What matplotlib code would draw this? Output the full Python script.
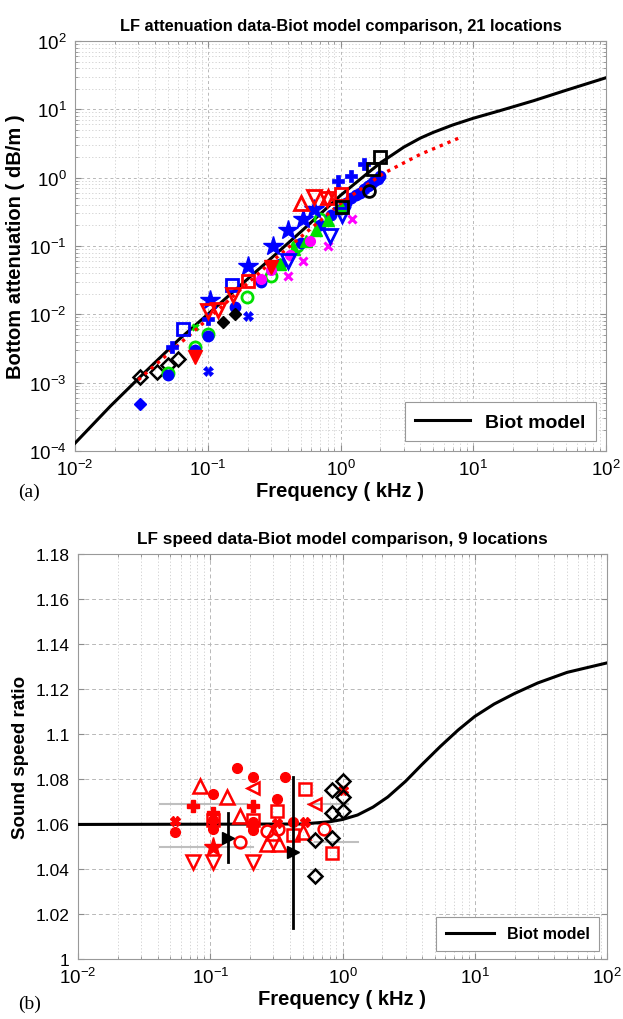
import numpy as np
import matplotlib
matplotlib.use('Agg')
import matplotlib.pyplot as plt
from matplotlib.ticker import LogLocator, FixedLocator, FuncFormatter, NullFormatter

plt.rcParams['font.family'] = ['Liberation Sans', 'DejaVu Sans']
plt.rcParams['mathtext.fontset'] = 'custom'
plt.rcParams['mathtext.rm'] = 'Liberation Sans'

# ---------------- Panel (a) data ----------------
biot_a_f = [0.01, 0.0184, 0.031, 0.06, 0.1, 0.2, 0.3, 0.5, 1.0, 1.5, 2.0, 3.0, 4.0, 5.0, 7.0, 10, 16, 28.6, 50, 100]
biot_a_att = [1.3e-4, 4.5e-4, 1.22e-3, 4.2e-3, 1.0e-2, 3.3e-2, 6.6e-2, 0.16, 0.55, 1.05, 1.65, 2.8, 3.8, 4.6, 5.9, 7.4, 9.6, 13.4, 19, 29]
fit_a_f = [0.03, 0.1, 0.3, 1.0, 2.1, 4.0, 7.8]
fit_a_att = [1.1e-3, 8.5e-3, 5.8e-2, 0.42, 1.15, 2.2, 3.8]

blue_star_f = [0.104, 0.2, 0.31, 0.40, 0.52, 0.63]
blue_star_v = [0.016, 0.051, 0.10, 0.17, 0.25, 0.35]
blue_sq_f = [0.065, 0.153]
blue_sq_v = [0.006, 0.027]
blue_plus_f = [0.054, 0.101, 0.96, 1.19, 1.5]
blue_plus_v = [0.0033, 0.0086, 0.9, 1.05, 1.57]
blue_x_f = [0.101, 0.2]
blue_x_v = [0.0015, 0.0094]
blue_dia_f = [0.031]
blue_dia_v = [4.8e-4]
blue_dot_f = [0.05, 0.08, 0.101, 0.161, 0.25, 0.35, 0.5, 0.7, 0.85, 1.0, 1.1, 1.2, 1.3, 1.4, 1.5, 1.6, 1.7, 1.8, 1.9, 2.0]
blue_dot_v = [1.3e-3, 3.0e-3, 4.8e-3, 1.27e-2, 0.03, 0.055, 0.11, 0.2, 0.28, 0.35, 0.42, 0.5, 0.55, 0.6, 0.68, 0.75, 0.8, 0.9, 0.95, 1.05]
blue_dtri_f = [0.40, 0.84, 1.03]
blue_dtri_v = [0.06, 0.14, 0.28]
red_dtri_f = [0.1, 0.12, 0.155, 0.63, 0.79]
red_dtri_v = [0.0113, 0.0116, 0.019, 0.52, 0.49]
red_fdtri_f = [0.08, 0.3]
red_fdtri_v = [0.0024, 0.05]
red_sq_f = [0.2, 1.0]
red_sq_v = [0.031, 0.57]
red_utri_f = [0.5, 0.81]
red_utri_v = [0.42, 0.52]
green_circ_f = [0.05, 0.08, 0.101, 0.198, 0.30, 0.47, 0.70]
green_circ_v = [1.4e-3, 3.3e-3, 5.1e-3, 1.8e-2, 0.037, 0.10, 0.25]
green_x_f = [0.08]
green_x_v = [0.0065]
green_tri_f = [0.35, 0.45, 0.55, 0.65, 0.8, 1.0]
green_tri_v = [0.055, 0.09, 0.12, 0.17, 0.24, 0.37]
mag_dot_f = [0.25, 0.3, 0.42, 0.59]
mag_dot_v = [0.033, 0.045, 0.073, 0.12]
mag_x_f = [0.40, 0.52, 0.80, 1.23]
mag_x_v = [0.037, 0.06, 0.10, 0.25]
blk_dia_f = [0.031, 0.0416, 0.0503, 0.060]
blk_dia_v = [1.22e-3, 1.44e-3, 1.82e-3, 2.22e-3]
blk_fdia_f = [0.13, 0.16]
blk_fdia_v = [0.0077, 0.010]
blk_sq_f = [1.03, 1.77, 2.0]
blk_sq_v = [0.37, 1.32, 2.0]
blk_circ_f = [1.63]
blk_circ_v = [0.63]

# ---------------- Panel (b) data ----------------
biot_b_f = [0.01, 0.5, 0.8, 1.0, 1.3, 1.7, 2.2, 3.0, 4.0, 5.5, 7.5, 10, 14, 20, 30, 50, 100]
biot_b_v = [1.0598, 1.0600, 1.0610, 1.0620, 1.0640, 1.0675, 1.0720, 1.0790, 1.0865, 1.0945, 1.1018,
            1.1078, 1.1133, 1.1180, 1.1227, 1.1274, 1.1316]

r_fdot_f = [0.054, 0.105, 0.105, 0.159, 0.21, 0.21, 0.21, 0.32, 0.366, 0.42, 0.105, 0.21]
r_fdot_v = [1.0564, 1.0733, 1.058, 1.085, 1.081, 1.059, 1.061, 1.071, 1.081, 1.061, 1.062, 1.0575]
r_x_f = [0.054, 0.52, 1.0, 0.32]
r_x_v = [1.0613, 1.061, 1.075, 1.0605]
r_plus_f = [0.074, 0.21, 0.105]
r_plus_v = [1.068, 1.068, 1.065]
r_utri_f = [0.084, 0.133, 0.167, 0.27, 0.33, 0.5, 0.30]
r_utri_v = [1.077, 1.072, 1.0636, 1.051, 1.051, 1.0564, 1.056]
r_dtri_f = [0.074, 0.105, 0.21]
r_dtri_v = [1.043, 1.043, 1.043]
r_star_f = [0.105]
r_star_v = [1.050]
r_circ_f = [0.167, 0.27, 0.325, 0.73]
r_circ_v = [1.052, 1.057, 1.058, 1.058]
r_sq_f = [0.105, 0.21, 0.32, 0.52, 0.83, 0.42]
r_sq_v = [1.062, 1.062, 1.066, 1.0756, 1.047, 1.055]
r_ltri_f = [0.21, 0.62]
r_ltri_v = [1.076, 1.069]
k_dia_f = [0.62, 0.62, 0.83, 0.83, 0.83, 1.0, 1.0, 1.0]
k_dia_v = [1.053, 1.037, 1.054, 1.065, 1.075, 1.079, 1.066, 1.072]
k_tri_f = [0.136, 0.42]
k_tri_v = [1.054, 1.0476]
k_tri_lo = [1.043, 1.014]
k_tri_hi = [1.065, 1.081]
gray_seg_y = [1.069, 1.050, 1.069, 1.052]
gray_seg_x0 = [0.042, 0.042, 0.55, 0.62]
gray_seg_x1 = [0.19, 0.21, 1.1, 1.3]

W, H = 623, 1020
fig = plt.figure(figsize=(W / 100, H / 100), dpi=100)


def px_axes(left, top, right, bottom):
    return fig.add_axes([left / W, 1 - bottom / H, (right - left) / W, (bottom - top) / H])


def style_axes(ax, lsize):
    ax.set_xscale('log')
    ax.set_xlim(0.01, 100)
    ax.xaxis.set_major_locator(LogLocator(base=10, numticks=10))
    ax.xaxis.set_minor_locator(LogLocator(base=10, subs=np.arange(2, 10), numticks=20))
    ax.xaxis.set_minor_formatter(NullFormatter())
    ax.tick_params(which='both', direction='in', top=True, right=True, color='0.55')
    ax.tick_params(which='major', length=4, labelsize=lsize, pad=6)
    ax.tick_params(which='minor', length=2)
    for s in ax.spines.values():
        s.set_color('0.6')
        s.set_linewidth(0.8)


# ---------------- Panel (a) ----------------
ax = px_axes(75, 42, 606, 452)
style_axes(ax, 13.5)
ax.set_yscale('log')
ax.set_ylim(1e-4, 1e2)
ax.yaxis.set_major_locator(LogLocator(base=10, numticks=10))
ax.yaxis.set_minor_locator(LogLocator(base=10, subs=np.arange(2, 10), numticks=20))
ax.yaxis.set_minor_formatter(NullFormatter())
ax.grid(True, which='major', linestyle=(0, (3, 3)), color='0.72', linewidth=0.7)
ax.grid(True, which='minor', linestyle=(0, (1.5, 2.5)), color='0.8', linewidth=0.6)
ax.set_axisbelow(True)

ax.plot(biot_a_f, biot_a_att, color='black', lw=2.2, label='Biot model', zorder=3)

ms = 8
ax.plot(blk_dia_f, blk_dia_v, ls='none', marker='D', ms=7, mfc='none', mec='black', mew=1.8, zorder=4)
ax.plot(blue_dia_f, blue_dia_v, ls='none', marker='D', ms=6.5, mfc='blue', mec='blue', zorder=4)
ax.plot(green_circ_f, green_circ_v, ls='none', marker='o', ms=ms, mfc='none', mec='#00e000', mew=2, zorder=4)
ax.plot(blue_dot_f, blue_dot_v, ls='none', marker='o', ms=7.5, mfc='blue', mec='blue', zorder=4)
ax.plot(green_tri_f, green_tri_v, ls='none', marker='^', ms=8, mfc='#00e000', mec='#00e000', zorder=4)
ax.plot(mag_dot_f, mag_dot_v, ls='none', marker='o', ms=7, mfc='magenta', mec='magenta', zorder=4)
ax.plot(mag_x_f, mag_x_v, ls='none', marker='x', ms=6, mec='magenta', mew=2.2, zorder=4)
ax.plot(green_x_f, green_x_v, ls='none', marker='x', ms=5, mec='#00e000', mew=2.2, zorder=4)
ax.plot(blue_star_f, blue_star_v, ls='none', marker='*', ms=15, mfc='blue', mec='blue', zorder=5)
ax.plot(blue_sq_f, blue_sq_v, ls='none', marker='s', ms=8.5, mfc='none', mec='blue', mew=2, zorder=5)
ax.plot(blue_plus_f, blue_plus_v, ls='none', marker='P', ms=9, mfc='blue', mec='blue', mew=0.5, zorder=5)
ax.plot(blue_x_f, blue_x_v, ls='none', marker='X', ms=7, mfc='blue', mec='blue', mew=0.5, zorder=5)
ax.plot(blue_dtri_f, blue_dtri_v, ls='none', marker='v', ms=9.5, mfc='none', mec='blue', mew=2, zorder=5)
ax.plot(red_dtri_f, red_dtri_v, ls='none', marker='v', ms=9.5, mfc='none', mec='red', mew=2, zorder=5)
ax.plot(red_fdtri_f, red_fdtri_v, ls='none', marker='v', ms=9.5, mfc='red', mec='red', zorder=5)
ax.plot(red_sq_f, red_sq_v, ls='none', marker='s', ms=8.5, mfc='none', mec='red', mew=2, zorder=5)
ax.plot(red_utri_f, red_utri_v, ls='none', marker='^', ms=9.5, mfc='none', mec='red', mew=2, zorder=5)
ax.plot(blk_fdia_f, blk_fdia_v, ls='none', marker='D', ms=6.5, mfc='black', mec='black', zorder=5)
ax.plot(blk_sq_f, blk_sq_v, ls='none', marker='s', ms=8.5, mfc='none', mec='black', mew=2, zorder=6)
ax.plot(blk_circ_f, blk_circ_v, ls='none', marker='o', ms=8.5, mfc='none', mec='black', mew=2, zorder=6)
ax.plot(fit_a_f, fit_a_att, color='red', ls=(0, (1, 1.5)), lw=2.4, zorder=4)

ax.set_title('LF attenuation data-Biot model comparison, 21 locations', fontsize=11.8, fontweight='bold', pad=8)
ax.set_ylabel('Bottom attenuation ( dB/m )', fontsize=14.5, fontweight='bold', labelpad=3)
ax.set_xlabel('Frequency ( kHz )', fontsize=14.5, fontweight='bold', labelpad=1)
leg = ax.legend(loc='lower right', prop={'weight': 'bold', 'size': 14}, handlelength=2.8,
                borderpad=0.55, fancybox=False, edgecolor='0.6', framealpha=1)
leg.get_frame().set_linewidth(0.8)
fig.text(18 / W, 1 - 492 / H, '(a)', fontsize=14, family=['Liberation Serif'], va='center', ha='left')

# ---------------- Panel (b) ----------------
bx = px_axes(78, 555, 607, 960)
style_axes(bx, 13.5)
bx.set_ylim(1.0, 1.18)
yt = [1.0, 1.02, 1.04, 1.06, 1.08, 1.1, 1.12, 1.14, 1.16, 1.18]
bx.yaxis.set_major_locator(FixedLocator(yt))
bx.yaxis.set_major_formatter(FuncFormatter(lambda v, p: ('%.2f' % v).rstrip('0').rstrip('.')))
bx.tick_params(axis='y', which='major', labelsize=12.5)
bx.grid(True, which='major', linestyle=(0, (4, 3)), color='0.72', linewidth=0.7)
bx.grid(True, which='minor', axis='x', linestyle=(0, (1.5, 2.5)), color='0.8', linewidth=0.6)
bx.set_axisbelow(True)

for y0, x0, x1 in zip(gray_seg_y, gray_seg_x0, gray_seg_x1):
    bx.plot([x0, x1], [y0, y0], color='0.75', lw=1.5, zorder=2)

bx.plot(biot_b_f, biot_b_v, color='black', lw=2.2, label='Biot model', zorder=3)
bx.plot(r_fdot_f, r_fdot_v, ls='none', marker='o', ms=7, mfc='red', mec='red', zorder=4)
bx.plot(r_x_f, r_x_v, ls='none', marker='X', ms=7, mfc='red', mec='red', zorder=4)
bx.plot(r_plus_f, r_plus_v, ls='none', marker='P', ms=8, mfc='red', mec='red', zorder=4)
bx.plot(r_utri_f, r_utri_v, ls='none', marker='^', ms=9.5, mfc='none', mec='red', mew=1.8, zorder=4)
bx.plot(r_dtri_f, r_dtri_v, ls='none', marker='v', ms=9.5, mfc='none', mec='red', mew=1.8, zorder=4)
bx.plot(r_star_f, r_star_v, ls='none', marker='*', ms=14, mfc='red', mec='red', zorder=4)
bx.plot(r_circ_f, r_circ_v, ls='none', marker='o', ms=8.5, mfc='none', mec='red', mew=1.8, zorder=4)
bx.plot(r_sq_f, r_sq_v, ls='none', marker='s', ms=8, mfc='none', mec='red', mew=1.8, zorder=4)
bx.plot(r_ltri_f, r_ltri_v, ls='none', marker='<', ms=8.5, mfc='none', mec='red', mew=1.8, zorder=4)
bx.plot(k_dia_f, k_dia_v, ls='none', marker='D', ms=7, mfc='none', mec='black', mew=1.8, zorder=5)
for f0, v0, lo, hi in zip(k_tri_f, k_tri_v, k_tri_lo, k_tri_hi):
    bx.plot([f0, f0], [lo, hi], color='black', lw=2, zorder=5)
bx.plot(k_tri_f, k_tri_v, ls='none', marker='>', ms=8.5, mfc='black', mec='black', zorder=6)

bx.set_title('LF speed data-Biot model comparison, 9 locations', fontsize=12.3, fontweight='bold', pad=8)
bx.set_ylabel('Sound speed ratio', fontsize=13.5, fontweight='bold', labelpad=5)
bx.set_xlabel('Frequency ( kHz )', fontsize=14.5, fontweight='bold', labelpad=1)
leg2 = bx.legend(loc='lower right', prop={'weight': 'bold', 'size': 11.5}, handlelength=3.0,
                 borderpad=0.6, fancybox=False, edgecolor='0.6', framealpha=1)
leg2.get_frame().set_linewidth(0.8)
fig.text(18 / W, 1 - 1004 / H, '(b)', fontsize=14, family=['Liberation Serif'], va='center', ha='left')

fig.savefig('out.png', dpi=100)
